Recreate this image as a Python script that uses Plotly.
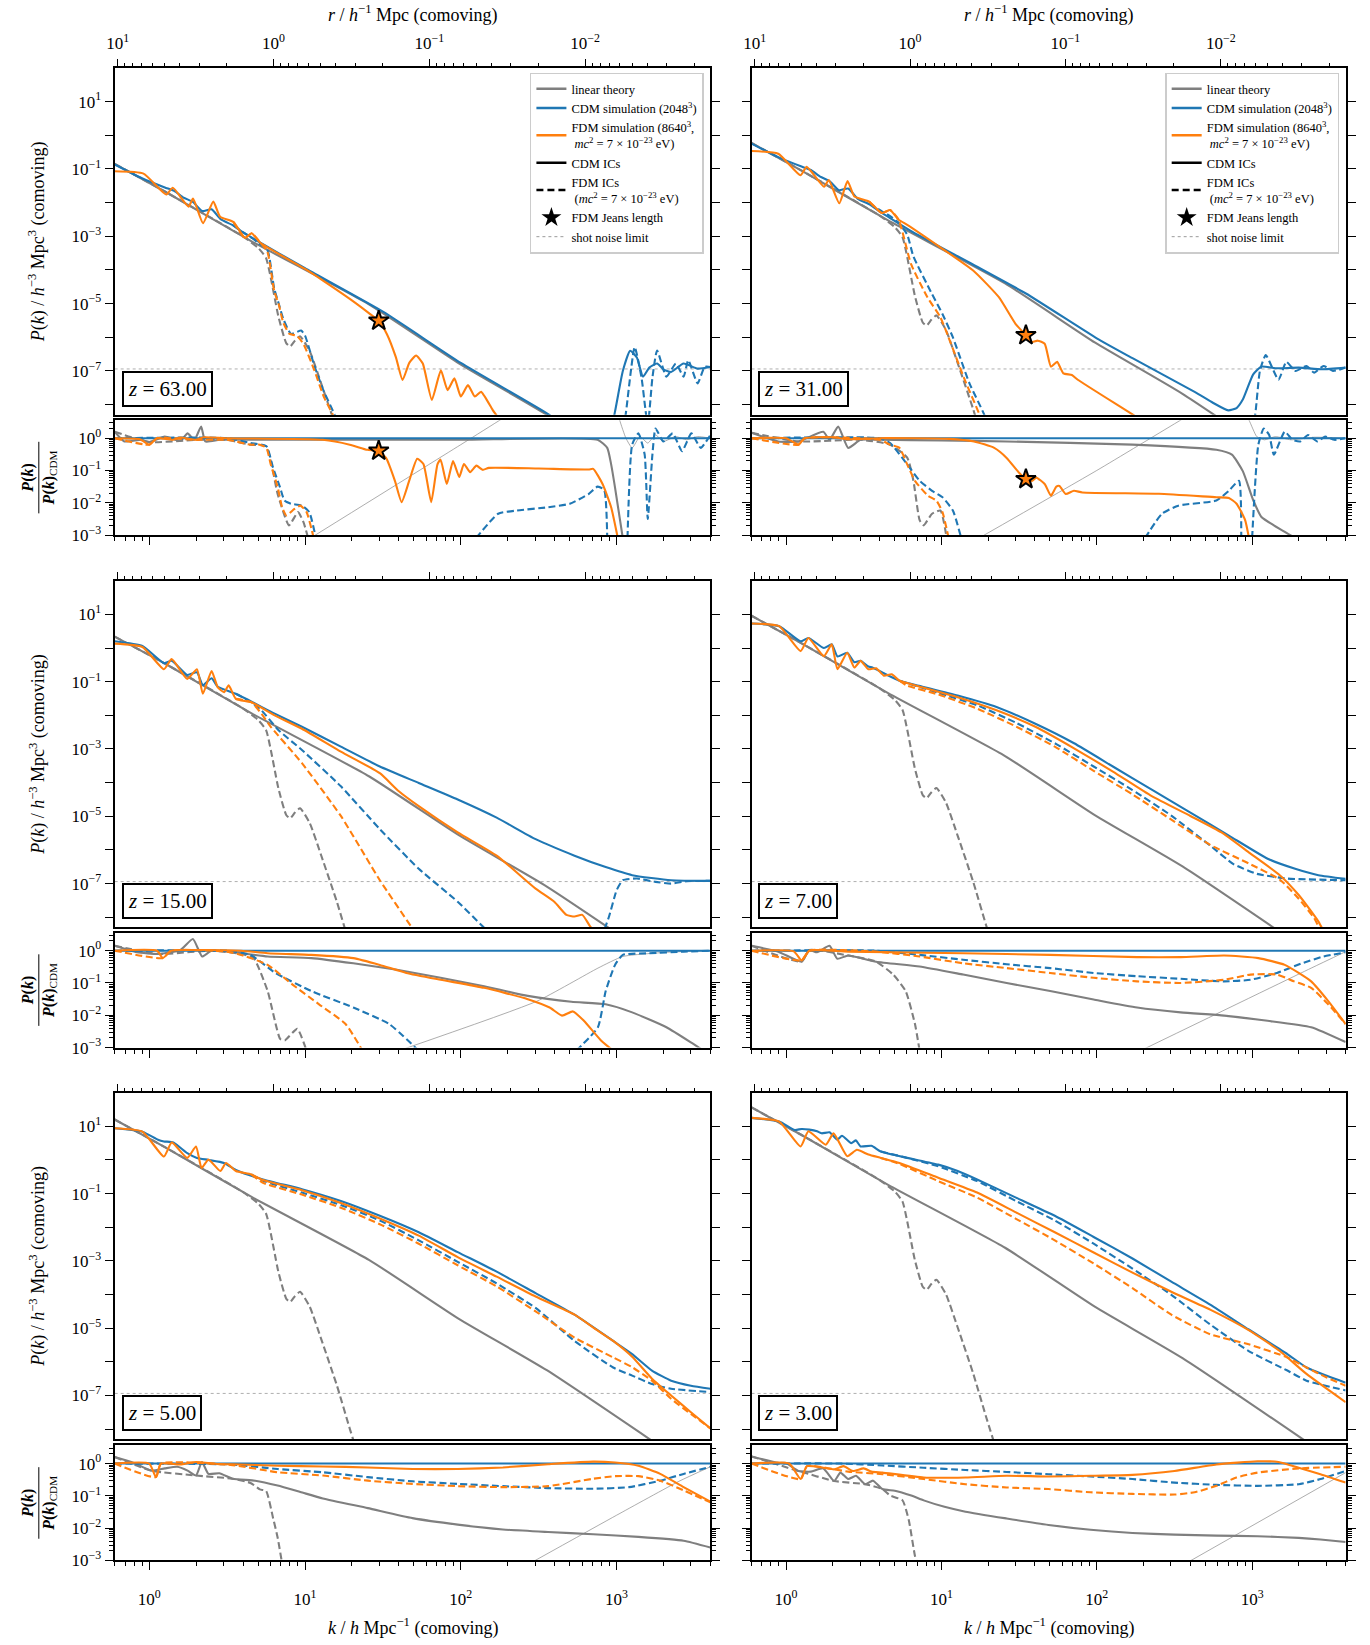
import plotly.graph_objects as go

W, H = 1370, 1645
FONT = "Liberation Serif, DejaVu Serif, serif"
GRAY, BLUE, ORANGE = "#7f7f7f", "#1f77b4", "#ff7f0e"

# ---------------- data (log10 k, log10 P or log10 ratio) ----------------
K_RANGE = [-0.222, 3.602]
SHOT_NOISE_LP = -6.94

GRAY_LK = [-0.222, 0.1, 0.657, 1.41, 1.99, 2.552, 3.602]
Z63_GRAY_LP = [-0.85, -1.67, -3.15, -5.02, -6.78, -8.30, -11.58]
Z31_GRAY_LP = [-0.23, -1.05, -2.53, -4.40, -6.16, -7.68, -10.96]
Z15_GRAY_LP = [0.34, -0.46, -1.94, -3.81, -5.57, -7.09, -10.37]
Z7_GRAY_LP = [0.96, 0.14, -1.34, -3.21, -4.97, -6.49, -9.77]
Z5_GRAY_LP = [1.20, 0.38, -1.10, -2.97, -4.73, -6.25, -9.53]
Z3_GRAY_LP = [1.56, 0.74, -0.74, -2.61, -4.37, -5.89, -9.17]

GRAYD_LK = [-0.222, 0.1, 0.6, 0.70, 0.75, 0.83, 0.88, 0.905, 0.935, 0.968, 1.03, 1.105, 1.205, 1.29, 1.4]
Z63_GRAYD_LP = [-0.85, -1.67, -3.0, -3.35, -3.65, -5.40, -6.18, -6.27, -6.1, -5.97, -6.41, -7.39, -8.76, -10.08, -11.7]
Z31_GRAYD_LP = [-0.23, -1.05, -2.38, -2.73, -3.03, -4.78, -5.56, -5.65, -5.48, -5.35, -5.79, -6.77, -8.14, -9.46, -11.08]
Z15_GRAYD_LP = [0.34, -0.46, -1.79, -2.14, -2.44, -4.19, -4.97, -5.06, -4.89, -4.76, -5.2, -6.18, -7.55, -8.87, -10.49]
Z7_GRAYD_LP = [0.96, 0.14, -1.19, -1.54, -1.84, -3.59, -4.37, -4.46, -4.29, -4.16, -4.6, -5.58, -6.95, -8.27, -9.89]
Z5_GRAYD_LP = [1.2, 0.38, -0.95, -1.3, -1.6, -3.35, -4.13, -4.22, -4.05, -3.92, -4.36, -5.34, -6.71, -8.03, -9.65]
Z3_GRAYD_LP = [1.56, 0.74, -0.59, -0.94, -1.24, -2.99, -3.77, -3.86, -3.69, -3.56, -4.0, -4.98, -6.35, -7.67, -9.29]

# z = 63
Z63_BLUE_LK = [-0.222, -0.05, 0.1, 0.16, 0.22, 0.28, 0.34, 0.40, 0.46, 0.54, 0.6, 0.66, 1.0, 1.5, 2.0, 2.55, 2.88, 2.94, 2.99, 3.04, 3.087, 3.13, 3.17, 3.21, 3.26, 3.3, 3.35, 3.43, 3.52, 3.602]
Z63_BLUE_LP = [-0.87, -1.27, -1.55, -1.65, -1.85, -1.98, -2.25, -2.2, -2.5, -2.68, -2.88, -3.05, -3.95, -5.24, -6.76, -8.25, -9.27, -9.2, -8.2, -7.0, -6.4, -6.6, -7.17, -6.9, -6.78, -6.95, -7.03, -6.78, -6.93, -6.88]
Z63_ORANGE_LK = [-0.222, -0.037, 0.108, 0.151, 0.252, 0.281, 0.345, 0.411, 0.455, 0.541, 0.614, 0.657, 0.715, 1.0, 1.12, 1.294, 1.41, 1.473, 1.525, 1.583, 1.626, 1.67, 1.713, 1.756, 1.814, 1.872, 1.915, 1.959, 2.0, 2.046, 2.09, 2.13, 2.205, 2.25]
Z63_ORANGE_LP = [-1.07, -1.14, -1.76, -1.56, -2.12, -1.88, -2.61, -1.97, -2.42, -2.58, -3.05, -2.91, -3.2, -3.97, -4.33, -4.88, -5.28, -5.51, -5.90, -6.59, -7.27, -6.75, -6.54, -6.78, -7.86, -6.98, -7.57, -7.22, -7.76, -7.42, -7.76, -7.62, -8.16, -8.45]
Z63_ORANGED_LK = [0.541, 0.614, 0.657, 0.715, 0.758, 0.802, 0.831, 0.86, 0.90, 0.946, 0.99, 1.06, 1.12, 1.178, 1.3]
Z63_ORANGED_LP = [-2.58, -3.05, -2.91, -3.2, -3.45, -4.62, -5.02, -5.56, -5.9, -5.95, -6.2, -6.98, -7.76, -8.3, -9.8]
Z63_BLUED_LK = [0.54, 0.6, 0.66, 0.70, 0.758, 0.802, 0.831, 0.86, 0.91, 0.975, 1.0, 1.06, 1.12, 1.19, 1.3, None, 3.03, 3.058, 3.116, 3.16, 3.2, 3.23, 3.26, 3.32, 3.38, 3.43, 3.46, 3.52, 3.565, 3.602]
Z63_BLUED_LP = [-2.68, -2.88, -3.05, -3.2, -3.40, -4.55, -5.0, -5.45, -5.9, -5.80, -5.95, -6.85, -7.6, -8.3, -9.7, None, -9.0, -8.3, -6.29, -7.2, -8.6, -7.2, -6.39, -7.17, -6.78, -7.17, -6.68, -7.37, -6.88, -6.88]

# z = 31
Z31_BLUE_LK = [-0.222, -0.05, 0.1, 0.16, 0.22, 0.28, 0.34, 0.40, 0.46, 0.54, 0.6, 0.66, 0.8, 1.2, 1.544, 2.0, 2.23, 2.63, 2.75, 2.846, 2.9, 2.94, 3.007, 3.06, 3.15, 3.3, 3.45, 3.602]
Z31_BLUE_LP = [-0.25, -0.65, -0.93, -1.03, -1.23, -1.36, -1.63, -1.58, -1.88, -2.06, -2.26, -2.43, -2.83, -3.83, -4.70, -6.03, -6.62, -7.62, -7.95, -8.17, -8.1, -7.85, -7.1, -6.87, -6.92, -6.9, -6.95, -6.9]
Z31_ORANGE_LK = [-0.222, -0.05, 0.093, 0.133, 0.245, 0.275, 0.343, 0.396, 0.44, 0.535, 0.617, 0.67, 0.725, 0.78, 1.0, 1.208, 1.37, 1.477, 1.544, 1.584, 1.62, 1.665, 1.705, 1.745, 1.785, 1.84, 1.878, 2.23, 2.4]
Z31_ORANGE_LP = [-0.47, -0.55, -1.19, -0.94, -1.53, -1.33, -2.02, -1.36, -1.82, -1.97, -2.31, -2.22, -2.51, -2.66, -3.35, -4.03, -4.81, -5.6, -5.94, -6.14, -6.1, -6.19, -6.87, -6.73, -7.07, -7.12, -7.26, -8.29, -8.8]
Z31_ORANGED_LK = [0.535, 0.617, 0.67, 0.725, 0.805, 0.91, 0.993, 1.045, 1.15, 1.245, 1.35]
Z31_ORANGED_LP = [-1.97, -2.31, -2.22, -2.51, -3.83, -4.81, -5.4, -5.99, -7.26, -8.29, -9.6]
Z31_BLUED_LK = [0.535, 0.617, 0.67, 0.725, 0.78, 0.82, 0.94, 1.006, 1.073, 1.18, 1.275, 1.4, None, 2.95, 3.02, 3.05, 3.088, 3.17, 3.22, 3.28, 3.35, 3.4, 3.46, 3.52, 3.602]
Z31_BLUED_LP = [-2.02, -2.26, -2.4, -2.6, -2.95, -3.6, -4.72, -5.3, -5.99, -7.36, -8.29, -9.9, None, -10.0, -8.29, -7.0, -6.53, -7.26, -6.73, -7.0, -6.85, -7.05, -6.85, -7.0, -6.9]

# z = 15
Z15_BLUE_LK = [-0.222, -0.044, 0.094, 0.144, 0.244, 0.306, 0.344, 0.4, 0.44, 0.556, 0.805, 0.98, 1.23, 1.48, 1.73, 1.98, 2.23, 2.48, 2.73, 2.93, 3.1, 3.35, 3.602]
Z15_BLUE_LP = [0.2, 0.06, -0.45, -0.38, -0.8, -0.72, -1.1, -0.9, -1.15, -1.36, -1.95, -2.34, -2.93, -3.52, -4.01, -4.5, -5.04, -5.68, -6.17, -6.51, -6.75, -6.9, -6.92]
Z15_ORANGE_LK = [-0.222, -0.044, 0.094, 0.144, 0.244, 0.306, 0.344, 0.4, 0.44, 0.48, 0.51, 0.556, 0.655, 0.805, 0.98, 1.23, 1.48, 1.6, 1.73, 1.98, 2.23, 2.48, 2.6, 2.678, 2.73, 2.78, 2.83, 2.9]
Z15_ORANGE_LP = [0.13, 0.03, -0.63, -0.33, -0.92, -0.63, -1.36, -0.68, -1.17, -1.31, -1.11, -1.51, -1.61, -2.0, -2.4, -3.08, -3.72, -4.25, -4.7, -5.48, -6.17, -7.15, -7.54, -7.93, -7.98, -7.93, -8.27, -8.6]
Z15_ORANGED_LK = [0.556, 0.655, 0.72, 0.78, 0.98, 1.23, 1.48, 1.68, 1.8]
Z15_ORANGED_LP = [-1.51, -1.61, -1.95, -2.34, -3.42, -4.99, -6.9, -8.27, -9.1]
Z15_BLUED_LK = [0.556, 0.655, 0.72, 0.83, 0.98, 1.23, 1.48, 1.73, 1.98, 2.14, 2.3, None, 2.74, 2.88, 2.95, 3.0, 3.04, 3.13, 3.25, 3.35, 3.45, 3.602]
Z15_BLUED_LP = [-1.36, -1.61, -1.85, -2.44, -3.03, -4.11, -5.38, -6.56, -7.54, -8.27, -9.0, None, -9.2, -8.8, -8.0, -7.2, -6.9, -6.85, -6.95, -7.0, -6.93, -6.92]

# z = 7
Z7_BLUE_LK = [-0.222, -0.044, 0.094, 0.144, 0.244, 0.294, 0.331, 0.394, 0.44, 0.48, 0.53, 0.556, 0.63, 0.73, 0.855, 1.105, 1.355, 1.605, 1.854, 2.104, 2.354, 2.603, 2.853, 3.1, 3.277, 3.427, 3.602]
Z7_BLUE_LP = [0.73, 0.65, 0.2, 0.3, 0.0, 0.11, -0.25, -0.14, -0.42, -0.38, -0.55, -0.58, -0.75, -0.97, -1.12, -1.41, -1.75, -2.25, -2.83, -3.52, -4.21, -4.89, -5.58, -6.26, -6.56, -6.75, -6.86]
Z7_ORANGE_LK = [-0.222, -0.044, 0.094, 0.144, 0.244, 0.294, 0.331, 0.394, 0.44, 0.48, 0.53, 0.58, 0.63, 0.68, 0.73, 0.855, 1.105, 1.355, 1.605, 1.854, 2.104, 2.354, 2.603, 2.803, 2.978, 3.178, 3.3, 3.427, 3.5]
Z7_ORANGE_LP = [0.73, 0.65, -0.09, 0.30, -0.24, 0.11, -0.63, -0.14, -0.58, -0.38, -0.63, -0.6, -0.82, -0.78, -0.97, -1.14, -1.46, -1.85, -2.34, -2.98, -3.67, -4.4, -4.99, -5.48, -6.07, -6.75, -7.34, -8.13, -8.8]
Z7_ORANGED_LK = [0.73, 0.78, 0.98, 1.23, 1.48, 1.73, 1.98, 2.23, 2.48, 2.73, 2.978, 3.178, 3.3, 3.4, 3.427, 3.5]
Z7_ORANGED_LP = [-0.97, -1.12, -1.38, -1.8, -2.33, -2.93, -3.65, -4.35, -5.1, -5.85, -6.4, -6.88, -7.45, -8.03, -8.27, -8.9]
Z7_BLUED_LK = [0.73, 0.98, 1.23, 1.48, 1.73, 1.98, 2.23, 2.48, 2.73, 2.88, 3.03, 3.227, 3.602]
Z7_BLUED_LP = [-0.97, -1.33, -1.7, -2.22, -2.83, -3.52, -4.22, -4.98, -5.87, -6.42, -6.71, -6.85, -6.9]

# z = 5
Z5_BLUE_LK = [-0.222, -0.044, 0.056, 0.094, 0.155, 0.244, 0.306, 0.38, 0.48, 0.556, 0.73, 0.98, 1.23, 1.48, 1.73, 1.98, 2.23, 2.48, 2.73, 2.978, 3.1, 3.227, 3.35, 3.477, 3.602]
Z5_BLUE_LP = [0.94, 0.84, 0.6, 0.55, 0.52, 0.2, 0.06, 0.0, -0.09, -0.3, -0.58, -0.87, -1.22, -1.66, -2.15, -2.74, -3.32, -3.96, -4.6, -5.38, -5.77, -6.26, -6.56, -6.71, -6.8]
Z5_ORANGE_LK = [-0.222, -0.044, 0.094, 0.144, 0.244, 0.3, 0.336, 0.38, 0.456, 0.493, 0.556, 0.655, 0.73, 0.98, 1.23, 1.48, 1.73, 1.98, 2.23, 2.48, 2.73, 2.853, 2.978, 3.1, 3.227, 3.35, 3.477, 3.602]
Z5_ORANGE_LP = [0.94, 0.84, 0.1, 0.52, 0.06, 0.4, -0.24, 0.01, -0.33, -0.09, -0.33, -0.43, -0.6, -0.9, -1.28, -1.74, -2.25, -2.89, -3.47, -4.06, -4.6, -4.99, -5.38, -5.85, -6.5, -7.0, -7.5, -7.98]
Z5_ORANGED_LK = [0.655, 0.73, 0.98, 1.23, 1.48, 1.73, 1.98, 2.23, 2.48, 2.73, 2.978, 3.1, 3.227, 3.35, 3.477, 3.602]
Z5_ORANGED_LP = [-0.43, -0.68, -1.03, -1.42, -1.91, -2.49, -3.13, -3.76, -4.5, -5.28, -5.87, -6.16, -6.56, -7.1, -7.55, -7.98]
Z5_BLUED_LK = [0.655, 0.73, 0.98, 1.23, 1.48, 1.73, 1.98, 2.23, 2.48, 2.73, 2.978, 3.1, 3.227, 3.35, 3.602]
Z5_BLUED_LP = [-0.43, -0.62, -0.97, -1.34, -1.8, -2.39, -3.03, -3.67, -4.4, -5.38, -6.17, -6.41, -6.66, -6.8, -6.9]

# z = 3
Z3_BLUE_LK = [-0.222, -0.044, 0.056, 0.1, 0.15, 0.2, 0.23, 0.28, 0.33, 0.36, 0.42, 0.45, 0.48, 0.55, 0.61, 0.78, 0.98, 1.105, 1.23, 1.48, 1.73, 1.98, 2.23, 2.48, 2.73, 2.978, 3.227, 3.35, 3.477, 3.602]
Z3_BLUE_LP = [1.25, 1.14, 0.89, 0.92, 0.9, 0.85, 0.79, 0.82, 0.6, 0.72, 0.5, 0.58, 0.4, 0.42, 0.25, 0.06, -0.14, -0.33, -0.58, -1.12, -1.66, -2.29, -2.93, -3.62, -4.3, -5.04, -5.77, -6.17, -6.41, -6.62]
Z3_ORANGE_LK = [-0.222, -0.044, 0.094, 0.144, 0.256, 0.306, 0.394, 0.456, 0.53, 0.61, 0.73, 0.98, 1.23, 1.48, 1.73, 1.98, 2.23, 2.48, 2.73, 2.978, 3.178, 3.35, 3.602]
Z3_ORANGE_LP = [1.25, 1.14, 0.4, 0.85, 0.45, 0.79, 0.11, 0.3, 0.16, 0.06, -0.09, -0.53, -0.97, -1.56, -2.15, -2.75, -3.35, -3.92, -4.45, -5.06, -5.68, -6.36, -7.2]
Z3_ORANGED_LK = [0.61, 0.73, 0.98, 1.23, 1.48, 1.73, 1.98, 2.23, 2.48, 2.73, 2.978, 3.227, 3.35, 3.477, 3.602]
Z3_ORANGED_LP = [0.06, -0.12, -0.63, -1.12, -1.75, -2.39, -3.08, -3.81, -4.6, -5.18, -5.48, -5.87, -6.17, -6.46, -6.71]
Z3_BLUED_LK = [0.61, 0.78, 0.98, 1.23, 1.48, 1.73, 1.98, 2.23, 2.48, 2.73, 2.978, 3.227, 3.35, 3.602]
Z3_BLUED_LP = [0.25, 0.06, -0.19, -0.63, -1.22, -1.8, -2.49, -3.23, -4.01, -4.89, -5.68, -6.26, -6.56, -6.85]

# ---- ratio panels: log10 [P(k) / P(k)_CDM] ----
RATIO_ONE_LK = [-0.222, 3.602]
RATIO_ONE_LR = [0.0, 0.0]

Z63_R_GS_LK = [-0.222, -0.16, -0.05, 0.0, 0.1, 0.2, 0.246, 0.29, 0.333, 0.36, 0.45, 0.535, 1.0, 2.0, 2.878, 2.94, 2.965, 2.99, 3.04]
Z63_R_GS_LR = [0.2, -0.1, -0.05, -0.12, 0.05, -0.08, 0.15, -0.05, 0.36, -0.1, -0.05, -0.05, -0.05, -0.05, -0.05, -0.3, -0.81, -1.53, -3.1]
Z63_R_OS_LK = [-0.222, -0.06, 0.0, 0.05, 0.15, 0.2, 0.3, 0.35, 0.5, 1.114, 1.287, 1.40, 1.467, 1.52, 1.577, 1.62, 1.67, 1.72, 1.76, 1.81, 1.85, 1.87, 1.91, 1.95, 1.99, 2.02, 2.06, 2.1, 2.14, 2.18, 2.5, 2.82, 2.85, 2.91, 2.965, 3.008]
Z63_R_OS_LR = [0.0, -0.03, -0.2, 0.0, -0.05, 0.02, -0.05, 0.03, 0.0, -0.05, -0.2, -0.36, -0.39, -0.61, -1.32, -1.98, -1.3, -0.64, -0.8, -1.98, -0.81, -0.66, -1.42, -0.71, -1.2, -0.8, -1.05, -0.85, -0.98, -0.92, -0.94, -0.97, -0.95, -1.42, -2.14, -3.1]
Z63_R_OD_LK = [-0.222, 0.0, 0.05, 0.3, 0.5, 0.65, 0.71, 0.752, 0.78, 0.825, 0.853, 0.88, 0.93, 0.97, 1.01, 1.056]
Z63_R_OD_LR = [0.0, -0.2, 0.0, -0.05, -0.05, -0.2, -0.2, -0.3, -0.81, -1.53, -2.14, -2.39, -2.2, -2.09, -2.29, -3.1]
Z63_R_BD_LK = [-0.222, 0.5, 0.65, 0.752, 0.795, 0.84, 0.868, 0.91, 0.98, 1.027, 1.07, None, 2.097, 2.24, 2.36, 2.56, 2.70, 2.82, 2.878, 2.92, 2.94, None, 3.07, 3.10, 3.14, 3.18, 3.2, 3.23, 3.25, 3.3, 3.36, 3.42, 3.48, 3.54, 3.602]
Z63_R_BD_LR = [0.0, 0.0, -0.15, -0.25, -0.92, -1.53, -1.93, -2.03, -2.09, -2.29, -3.1, None, -3.1, -2.34, -2.24, -2.14, -2.03, -1.73, -1.5, -1.6, -3.1, None, -3.1, -0.2, 0.15, -0.5, -2.5, -0.5, 0.3, -0.1, 0.15, -0.4, 0.15, -0.3, 0.1]
Z63_R_GD_LK = [-0.222, 0.0, 0.3, 0.5, 0.65, 0.75, 0.825, 0.897, 0.955, 0.99, 1.02]
Z63_R_GD_LR = [0.2, -0.12, -0.05, -0.05, -0.2, -0.25, -1.74, -2.7, -2.29, -2.6, -3.1]
Z63_R_SN_LK = [1.0, 2.0, 2.5, 2.9, 2.98, 3.02, 3.06, 3.1, 3.15, 3.2, 3.25, 3.3, 3.38, 3.45, 3.52, 3.602]
Z63_R_SN_LR = [-3.2, -0.2, 1.3, 2.3, 1.5, 0.56, 0.0, -0.3, 0.05, -0.15, 0.1, -0.1, 0.05, -0.05, 0.05, 0.0]

Z31_R_GS_LK = [-0.222, -0.05, 0.08, 0.24, 0.28, 0.336, 0.40, 0.48, 0.6, 1.0, 1.42, 2.23, 2.77, 2.87, 2.94, 3.008, 3.06, 3.14, 3.28]
Z31_R_GS_LR = [0.17, -0.1, -0.1, 0.2, -0.05, 0.36, -0.3, -0.05, -0.05, -0.07, -0.1, -0.2, -0.36, -0.51, -1.02, -1.93, -2.44, -2.7, -3.1]
Z31_R_OS_LK = [-0.222, 0.0, 0.08, 0.12, 0.3, 0.4, 0.6, 1.05, 1.21, 1.34, 1.42, 1.50, 1.544, 1.585, 1.61, 1.665, 1.705, 1.74, 1.76, 1.80, 1.853, 1.907, 2.4, 2.77, 2.85, 2.9, 2.955, 2.98]
Z31_R_OS_LR = [0.0, 0.0, -0.2, 0.0, 0.03, -0.03, 0.0, -0.02, -0.1, -0.3, -0.61, -1.07, -1.27, -1.32, -1.22, -1.42, -1.78, -1.5, -1.48, -1.73, -1.63, -1.68, -1.72, -1.83, -1.85, -2.03, -2.54, -3.1]
Z31_R_OD_LK = [-0.222, 0.08, 0.12, 0.6, 0.67, 0.73, 0.78, 0.83, 0.913, 0.967, 1.007, 1.047]
Z31_R_OD_LR = [0.0, -0.2, 0.0, -0.05, -0.2, -0.3, -0.81, -1.32, -1.78, -1.93, -2.29, -3.1]
Z31_R_GD_LK = [-0.222, 0.08, 0.48, 0.67, 0.78, 0.82, 0.86, 0.886, 0.94, 0.994, 1.034]
Z31_R_GD_LR = [0.17, -0.1, -0.05, -0.2, -0.6, -1.32, -2.54, -2.7, -2.34, -2.24, -3.1]
Z31_R_BD_LK = [-0.222, 0.6, 0.67, 0.78, 0.86, 0.94, 1.007, 1.074, 1.128, None, 2.31, 2.42, 2.525, 2.77, 2.85, 2.915, 2.93, None, 3.0, 3.04, 3.075, 3.11, 3.14, 3.21, 3.26, 3.31, 3.36, 3.42, 3.47, 3.53, 3.602]
Z31_R_BD_LR = [0.0, 0.0, -0.15, -0.81, -1.32, -1.63, -1.83, -2.24, -3.1, None, -3.1, -2.34, -2.09, -1.93, -1.63, -1.32, -3.1, None, -3.1, -0.2, 0.3, 0.1, -0.51, 0.2, -0.05, -0.1, 0.1, -0.1, 0.05, -0.05, 0.0]
Z31_R_SN_LK = [1.24, 2.0, 2.54, 2.8, 2.9, 2.98, 3.03, 3.08, 3.15, 3.25, 3.4, 3.602]
Z31_R_SN_LR = [-3.1, -1.0, 0.56, 1.3, 1.2, 0.56, 0.05, -0.05, 0.05, -0.05, 0.03, 0.0]

Z15_R_GS_LK = [-0.222, -0.08, 0.06, 0.2, 0.28, 0.34, 0.4, 0.59, 0.76, 1.04, 1.31, 1.59, 1.87, 2.15, 2.43, 2.71, 2.93, 3.1, 3.32, 3.49, 3.56]
Z15_R_GS_LR = [0.15, -0.05, -0.1, 0.02, 0.36, -0.18, 0.0, -0.08, -0.18, -0.23, -0.39, -0.59, -0.84, -1.1, -1.4, -1.58, -1.66, -1.91, -2.37, -2.88, -3.1]
Z15_R_OS_LK = [-0.222, 0.05, 0.087, 0.14, 0.3, 0.59, 0.76, 1.04, 1.31, 1.48, 1.65, 1.87, 2.15, 2.43, 2.57, 2.65, 2.72, 2.79, 2.9, 2.98]
Z15_R_OS_LR = [0.0, 0.0, -0.23, 0.0, 0.02, 0.0, -0.08, -0.13, -0.23, -0.44, -0.69, -0.9, -1.15, -1.5, -1.76, -2.01, -1.88, -2.17, -2.78, -3.1]
Z15_R_OD_LK = [-0.222, 0.087, 0.14, 0.5, 0.59, 0.76, 0.92, 1.09, 1.26, 1.37]
Z15_R_OD_LR = [0.0, -0.23, 0.0, -0.03, -0.13, -0.44, -1.05, -1.66, -2.27, -3.1]
Z15_R_BD_LK = [-0.222, 0.5, 0.65, 0.81, 1.04, 1.31, 1.54, 1.73, None, 2.74, 2.88, 2.93, 2.99, 3.04, 3.21, 3.43, 3.602]
Z15_R_BD_LR = [0.0, 0.0, -0.13, -0.69, -1.25, -1.76, -2.27, -3.1, None, -3.1, -2.37, -1.25, -0.44, -0.13, -0.08, -0.03, 0.0]
Z15_R_GD_LK = [-0.222, 0.06, 0.4, 0.59, 0.67, 0.76, 0.84, 0.87, 0.95, 1.01]
Z15_R_GD_LR = [0.15, -0.1, 0.0, -0.1, -0.23, -1.25, -2.73, -2.78, -2.42, -3.1]
Z15_R_SN_LK = [1.6, 2.49, 2.88, 3.04, 3.32, 3.602]
Z15_R_SN_LR = [-3.1, -1.56, -0.54, -0.18, -0.05, 0.0]

Z7_R_GS_LK = [-0.222, -0.05, 0.1, 0.15, 0.2, 0.28, 0.33, 0.4, 0.58, 0.86, 1.14, 1.42, 1.7, 1.98, 2.26, 2.54, 2.82, 3.1, 3.38, 3.602]
Z7_R_GS_LR = [0.15, -0.03, -0.34, 0.02, -0.05, 0.15, -0.25, -0.15, -0.34, -0.49, -0.74, -1.0, -1.25, -1.51, -1.76, -1.91, -2.01, -2.17, -2.37, -2.83]
Z7_R_GD_LK = [-0.222, 0.1, 0.15, 0.4, 0.58, 0.69, 0.77, 0.83, 0.86]
Z7_R_GD_LR = [0.15, -0.34, 0.02, -0.15, -0.34, -0.74, -1.25, -2.27, -3.1]
Z7_R_OS_LK = [-0.222, 0.05, 0.1, 0.15, 0.4, 1.14, 1.7, 2.26, 2.54, 2.82, 3.04, 3.21, 3.38, 3.49, 3.602]
Z7_R_OS_LR = [0.0, -0.02, -0.3, 0.0, -0.03, -0.08, -0.13, -0.2, -0.2, -0.15, -0.23, -0.44, -0.95, -1.56, -2.27]
Z7_R_OD_LK = [-0.222, 0.1, 0.15, 0.58, 0.86, 1.14, 1.42, 1.7, 1.98, 2.26, 2.54, 2.82, 2.99, 3.16, 3.27, 3.38, 3.49, 3.602]
Z7_R_OD_LR = [0.0, -0.3, 0.0, -0.03, -0.18, -0.39, -0.54, -0.69, -0.84, -0.95, -1.0, -0.9, -0.74, -0.74, -0.95, -1.15, -1.66, -2.27]
Z7_R_BD_LK = [-0.222, 0.58, 0.86, 1.14, 1.42, 1.7, 1.98, 2.26, 2.54, 2.82, 2.99, 3.16, 3.32, 3.46, 3.602]
Z7_R_BD_LR = [0.0, 0.0, -0.13, -0.28, -0.42, -0.54, -0.69, -0.79, -0.87, -0.95, -0.9, -0.69, -0.39, -0.18, -0.05]
Z7_R_SN_LK = [2.28, 3.38, 3.602]
Z7_R_SN_LR = [-3.1, -0.54, -0.03]

Z5_R_GS_LK = [-0.222, -0.1, 0.014, 0.1, 0.18, 0.246, 0.3, 0.338, 0.38, 0.45, 0.535, 0.68, 0.824, 0.97, 1.114, 1.403, 1.69, 1.98, 2.27, 2.56, 2.85, 3.14, 3.43, 3.602]
Z5_R_GS_LR = [0.2, 0.02, -0.22, -0.15, -0.1, -0.22, -0.37, 0.05, -0.32, -0.3, -0.47, -0.53, -0.68, -0.88, -1.08, -1.38, -1.69, -1.89, -2.04, -2.12, -2.19, -2.27, -2.39, -2.6]
Z5_R_GD_LK = [-0.222, 0.014, 0.3, 0.535, 0.65, 0.71, 0.75, 0.795, 0.824, 0.853]
Z5_R_GD_LR = [0.2, -0.22, -0.37, -0.47, -0.6, -0.8, -0.85, -1.69, -2.29, -3.1]
Z5_R_OS_LK = [-0.222, 0.0, 0.043, 0.075, 0.2, 0.3, 0.45, 0.535, 0.824, 1.114, 1.403, 1.69, 1.98, 2.27, 2.56, 2.85, 2.99, 3.14, 3.28, 3.43, 3.602]
Z5_R_OS_LR = [0.0, 0.0, -0.42, 0.0, -0.03, 0.05, -0.02, -0.02, -0.07, -0.09, -0.12, -0.17, -0.17, -0.12, -0.02, 0.06, 0.03, -0.07, -0.32, -0.73, -1.18]
Z5_R_OD_LK = [-0.222, 0.043, 0.075, 0.535, 0.824, 1.114, 1.403, 1.69, 1.98, 2.27, 2.56, 2.85, 2.99, 3.14, 3.28, 3.43, 3.602]
Z5_R_OD_LR = [0.0, -0.42, 0.0, -0.05, -0.27, -0.37, -0.53, -0.63, -0.7, -0.73, -0.7, -0.47, -0.39, -0.39, -0.53, -0.83, -1.2]
Z5_R_BD_LK = [-0.222, 0.535, 0.824, 1.114, 1.403, 1.69, 1.98, 2.27, 2.56, 2.85, 3.08, 3.28, 3.43, 3.602]
Z5_R_BD_LR = [0.0, -0.03, -0.17, -0.27, -0.42, -0.55, -0.63, -0.7, -0.76, -0.78, -0.73, -0.53, -0.32, -0.1]
Z5_R_SN_LK = [2.44, 3.0, 3.4, 3.602]
Z5_R_SN_LR = [-3.1, -1.6, -0.55, -0.1]

Z3_R_GS_LK = [-0.222, -0.05, 0.0, 0.08, 0.16, 0.24, 0.31, 0.35, 0.4, 0.45, 0.51, 0.56, 0.62, 0.7, 0.806, 0.886, 1.02, 1.155, 1.42, 1.69, 1.96, 2.23, 2.5, 2.77, 3.035, 3.3, 3.44, 3.602]
Z3_R_GS_LR = [0.22, 0.02, 0.02, -0.23, -0.25, -0.15, -0.54, -0.28, -0.48, -0.38, -0.64, -0.53, -0.79, -0.84, -0.99, -1.14, -1.34, -1.49, -1.7, -1.9, -2.05, -2.15, -2.2, -2.23, -2.25, -2.3, -2.35, -2.43]
Z3_R_GD_LK = [-0.222, 0.08, 0.31, 0.51, 0.62, 0.67, 0.75, 0.79, 0.83, 0.845]
Z3_R_GD_LR = [0.22, -0.23, -0.54, -0.64, -0.79, -0.99, -1.14, -1.75, -2.86, -3.1]
Z3_R_OS_LK = [-0.222, 0.02, 0.094, 0.135, 0.24, 0.31, 0.37, 0.43, 0.5, 0.55, 0.62, 0.886, 1.155, 1.42, 1.69, 1.96, 2.23, 2.5, 2.77, 3.035, 3.17, 3.3, 3.44, 3.602]
Z3_R_OS_LR = [0.0, 0.0, -0.48, -0.08, -0.13, -0.18, -0.08, -0.23, -0.15, -0.25, -0.28, -0.43, -0.43, -0.38, -0.4, -0.38, -0.35, -0.23, -0.03, 0.07, 0.05, -0.13, -0.33, -0.59]
Z3_R_OD_LK = [-0.222, 0.094, 0.135, 0.4, 0.62, 0.886, 1.155, 1.42, 1.69, 1.96, 2.23, 2.5, 2.63, 2.77, 2.9, 3.035, 3.3, 3.602]
Z3_R_OD_LR = [0.0, -0.48, -0.08, -0.25, -0.33, -0.48, -0.64, -0.74, -0.79, -0.89, -0.94, -0.96, -0.89, -0.69, -0.43, -0.28, -0.15, -0.1]
Z3_R_BD_LK = [-0.222, 0.35, 0.62, 0.886, 1.155, 1.42, 1.69, 1.96, 2.23, 2.5, 2.77, 3.035, 3.3, 3.44, 3.602]
Z3_R_BD_LR = [0.0, 0.0, -0.06, -0.13, -0.2, -0.26, -0.33, -0.4, -0.48, -0.59, -0.66, -0.69, -0.64, -0.48, -0.23]
Z3_R_SN_LK = [2.57, 3.602]
Z3_R_SN_LR = [-3.1, -0.28]

# FDM Jeans length markers (z=63, z=31)
STAR_LK = [1.473, 1.544]
STAR_MAIN_LP = [-5.51, -5.94]
STAR_RATIO_LR = [-0.39, -1.27]

Z_LABELS = ["63.00", "31.00", "15.00", "7.00", "5.00", "3.00"]

# ---------------- figure ----------------
def pw(a):
    return [None if v is None else 10 ** v for v in a]

def px(x):
    return x / W

def py(y):
    return 1 - y / H

COLS = [(107.3, 706.5), (747.9, 1345.5)]
MAIN_ROWS = [(68.3, 417.3), (584.3, 933.0), (1099.3, 1448.0)]
RATIO_ROWS = [(422.7, 538.3), (938.3, 1054.0), (1454.3, 1570.0)]

PANELS = [
    dict(gs=Z63_GRAY_LP, gd=Z63_GRAYD_LP, b=(Z63_BLUE_LK, Z63_BLUE_LP), o=(Z63_ORANGE_LK, Z63_ORANGE_LP),
         od=(Z63_ORANGED_LK, Z63_ORANGED_LP), bd=(Z63_BLUED_LK, Z63_BLUED_LP),
         rgs=(Z63_R_GS_LK, Z63_R_GS_LR), rgd=(Z63_R_GD_LK, Z63_R_GD_LR), ros=(Z63_R_OS_LK, Z63_R_OS_LR),
         rod=(Z63_R_OD_LK, Z63_R_OD_LR), rbd=(Z63_R_BD_LK, Z63_R_BD_LR), rsn=(Z63_R_SN_LK, Z63_R_SN_LR), star=0),
    dict(gs=Z31_GRAY_LP, gd=Z31_GRAYD_LP, b=(Z31_BLUE_LK, Z31_BLUE_LP), o=(Z31_ORANGE_LK, Z31_ORANGE_LP),
         od=(Z31_ORANGED_LK, Z31_ORANGED_LP), bd=(Z31_BLUED_LK, Z31_BLUED_LP),
         rgs=(Z31_R_GS_LK, Z31_R_GS_LR), rgd=(Z31_R_GD_LK, Z31_R_GD_LR), ros=(Z31_R_OS_LK, Z31_R_OS_LR),
         rod=(Z31_R_OD_LK, Z31_R_OD_LR), rbd=(Z31_R_BD_LK, Z31_R_BD_LR), rsn=(Z31_R_SN_LK, Z31_R_SN_LR), star=1),
    dict(gs=Z15_GRAY_LP, gd=Z15_GRAYD_LP, b=(Z15_BLUE_LK, Z15_BLUE_LP), o=(Z15_ORANGE_LK, Z15_ORANGE_LP),
         od=(Z15_ORANGED_LK, Z15_ORANGED_LP), bd=(Z15_BLUED_LK, Z15_BLUED_LP),
         rgs=(Z15_R_GS_LK, Z15_R_GS_LR), rgd=(Z15_R_GD_LK, Z15_R_GD_LR), ros=(Z15_R_OS_LK, Z15_R_OS_LR),
         rod=(Z15_R_OD_LK, Z15_R_OD_LR), rbd=(Z15_R_BD_LK, Z15_R_BD_LR), rsn=(Z15_R_SN_LK, Z15_R_SN_LR), star=None),
    dict(gs=Z7_GRAY_LP, gd=Z7_GRAYD_LP, b=(Z7_BLUE_LK, Z7_BLUE_LP), o=(Z7_ORANGE_LK, Z7_ORANGE_LP),
         od=(Z7_ORANGED_LK, Z7_ORANGED_LP), bd=(Z7_BLUED_LK, Z7_BLUED_LP),
         rgs=(Z7_R_GS_LK, Z7_R_GS_LR), rgd=(Z7_R_GD_LK, Z7_R_GD_LR), ros=(Z7_R_OS_LK, Z7_R_OS_LR),
         rod=(Z7_R_OD_LK, Z7_R_OD_LR), rbd=(Z7_R_BD_LK, Z7_R_BD_LR), rsn=(Z7_R_SN_LK, Z7_R_SN_LR), star=None),
    dict(gs=Z5_GRAY_LP, gd=Z5_GRAYD_LP, b=(Z5_BLUE_LK, Z5_BLUE_LP), o=(Z5_ORANGE_LK, Z5_ORANGE_LP),
         od=(Z5_ORANGED_LK, Z5_ORANGED_LP), bd=(Z5_BLUED_LK, Z5_BLUED_LP),
         rgs=(Z5_R_GS_LK, Z5_R_GS_LR), rgd=(Z5_R_GD_LK, Z5_R_GD_LR), ros=(Z5_R_OS_LK, Z5_R_OS_LR),
         rod=(Z5_R_OD_LK, Z5_R_OD_LR), rbd=(Z5_R_BD_LK, Z5_R_BD_LR), rsn=(Z5_R_SN_LK, Z5_R_SN_LR), star=None),
    dict(gs=Z3_GRAY_LP, gd=Z3_GRAYD_LP, b=(Z3_BLUE_LK, Z3_BLUE_LP), o=(Z3_ORANGE_LK, Z3_ORANGE_LP),
         od=(Z3_ORANGED_LK, Z3_ORANGED_LP), bd=(Z3_BLUED_LK, Z3_BLUED_LP),
         rgs=(Z3_R_GS_LK, Z3_R_GS_LR), rgd=(Z3_R_GD_LK, Z3_R_GD_LR), ros=(Z3_R_OS_LK, Z3_R_OS_LR),
         rod=(Z3_R_OD_LK, Z3_R_OD_LR), rbd=(Z3_R_BD_LK, Z3_R_BD_LR), rsn=(Z3_R_SN_LK, Z3_R_SN_LR), star=None),
]

fig = go.Figure()
LW = 2.1
DASH = "7px,3.5px"


def ax(n, kind):
    return kind if n == 1 else f"{kind}{n}"


def line(xs, ys, xa, ya, color, width=LW, dash="solid", smooth=True):
    ln = dict(color=color, width=width, dash=dash)
    if smooth:
        ln.update(shape="spline", smoothing=0.5)
    fig.add_trace(go.Scatter(x=pw(xs), y=pw(ys), xaxis=xa, yaxis=ya, mode="lines", line=ln,
                             showlegend=False, hoverinfo="skip", connectgaps=False))


def sup(e):
    return "10<sup>" + (str(e) if e >= 0 else "\u2212" + str(-e)) + "</sup>"


TICKFONT = dict(family=FONT, size=17, color="black")
TWO_PI = 6.283185307179586
top_major = [TWO_PI / r for r in (10.0, 1.0, 0.1, 0.01)]
top_text = [sup(1), sup(0), sup(-1), sup(-2)]
top_minor = [TWO_PI / (m * 10.0 ** e) for e in (0, -1, -2, -3) for m in range(2, 10)]
x_minor = [m * 10.0 ** e for e in (-1, 0, 1, 2, 3) for m in range(2, 10) if 0.6 <= m * 10.0 ** e <= 4000]
r_minor = [m * 10.0 ** e for e in (-3, -2, -1, 0) for m in range(2, 10) if m * 10.0 ** e <= 3.6]
main_major = [10.0 ** e for e in (1, -1, -3, -5, -7)]
main_major_text = [sup(e) for e in (1, -1, -3, -5, -7)]
main_even = [10.0 ** e for e in (0, -2, -4, -6, -8)]

layout = {}
annotations = []
shapes = []

for i, P in enumerate(PANELS):
    col, row = i % 2, i // 2
    mn, rn, tn = 2 * i + 1, 2 * i + 2, 13 + i
    xm, ym = ax(mn, "x"), ax(mn, "y")
    xr, yr = ax(rn, "x"), ax(rn, "y")
    xt = ax(tn, "x")
    xd = [px(COLS[col][0]), px(COLS[col][1])]
    mdom = [py(MAIN_ROWS[row][1]), py(MAIN_ROWS[row][0])]
    rdom = [py(RATIO_ROWS[row][1]), py(RATIO_ROWS[row][0])]

    # ---- main panel traces ----
    line(GRAY_LK, P["gs"], xm, ym, GRAY)
    line(GRAYD_LK, P["gd"], xm, ym, GRAY, dash=DASH)
    line(K_RANGE, [SHOT_NOISE_LP, SHOT_NOISE_LP], xm, ym, "#9a9a9a", width=0.8, dash="dot", smooth=False)
    line(*P["bd"], xm, ym, BLUE, dash=DASH)
    line(*P["b"], xm, ym, BLUE)
    line(*P["od"], xm, ym, ORANGE, dash=DASH)
    line(*P["o"], xm, ym, ORANGE)
    # ---- ratio panel traces ----
    line(*P["rsn"], xr, yr, "#8a8a8a", width=0.7)
    line(*P["rgs"], xr, yr, GRAY)
    line(*P["rgd"], xr, yr, GRAY, dash=DASH)
    line(*P["rbd"], xr, yr, BLUE, dash=DASH)
    line(RATIO_ONE_LK, RATIO_ONE_LR, xr, yr, BLUE, smooth=False)
    line(*P["rod"], xr, yr, ORANGE, dash=DASH)
    line(*P["ros"], xr, yr, ORANGE)
    if P["star"] is not None:
        s = P["star"]
        for xa_, ya_, val in ((xm, ym, STAR_MAIN_LP[s]), (xr, yr, STAR_RATIO_LR[s])):
            fig.add_trace(go.Scatter(x=[10 ** STAR_LK[s]], y=[10 ** val], xaxis=xa_, yaxis=ya_, mode="markers",
                                     marker=dict(symbol="star", size=15, color=ORANGE, line=dict(color="black", width=2)),
                                     showlegend=False, hoverinfo="skip"))
    # dummy trace so that the top (r) axis is drawn
    fig.add_trace(go.Scatter(x=[1.0], y=[1e-30], xaxis=xt, yaxis=ym, mode="markers",
                             marker=dict(opacity=0), showlegend=False, hoverinfo="skip"))

    common = dict(type="log", showgrid=False, zeroline=False, linecolor="black", linewidth=2,
                  showline=True, tickfont=TICKFONT, tickcolor="black", tickwidth=1.3)
    layout[ax(mn, "xaxis")] = dict(common, domain=xd, anchor=ym, range=K_RANGE, ticks="",
                                   showticklabels=False, mirror=True)
    layout[ax(mn, "yaxis")] = dict(common, domain=mdom, anchor=xm, range=[-8.3, 2.0], ticks="outside",
                                   ticklen=8, mirror="ticks", tickmode="array",
                                   tickvals=main_major, ticktext=main_major_text,
                                   showticklabels=(col == 0),
                                   minor=dict(tickmode="array", tickvals=main_even, ticks="outside",
                                              ticklen=8, tickwidth=1.3, tickcolor="black", showgrid=False))
    layout[ax(tn, "xaxis")] = dict(common, overlaying=xm, side="top", anchor=ym, range=K_RANGE,
                                   showline=False, ticks="outside", ticklen=8, tickmode="array",
                                   tickvals=top_major, ticktext=top_text, showticklabels=(row == 0),
                                   ticklabelstandoff=3,
                                   minor=dict(tickmode="array", tickvals=top_minor, ticks="outside",
                                              ticklen=4, tickwidth=1, tickcolor="black", showgrid=False))
    layout[ax(rn, "xaxis")] = dict(common, domain=xd, anchor=yr, range=K_RANGE, ticks="outside", ticklen=8,
                                   mirror=True, tickmode="array", tickvals=[1, 10, 100, 1000],
                                   ticktext=[sup(0), sup(1), sup(2), sup(3)], showticklabels=(row == 2),
                                   ticklabelstandoff=14,
                                   minor=dict(tickmode="array", tickvals=x_minor, ticks="outside",
                                              ticklen=4, tickwidth=1, tickcolor="black", showgrid=False))
    layout[ax(rn, "yaxis")] = dict(common, domain=rdom, anchor=xr, range=[-3.0, 0.56], ticks="outside",
                                   ticklen=8, mirror="ticks", tickmode="array",
                                   tickvals=[1e-3, 1e-2, 1e-1, 1.0],
                                   ticktext=[sup(-3), sup(-2), sup(-1), sup(0)], showticklabels=(col == 0),
                                   minor=dict(tickmode="array", tickvals=r_minor, ticks="outside",
                                              ticklen=4, tickwidth=1, tickcolor="black", showgrid=False))

    # redshift label box
    annotations.append(dict(xref="paper", yref="paper", x=px(COLS[col][0] + 7), y=py(MAIN_ROWS[row][1] - 8),
                            xanchor="left", yanchor="bottom", showarrow=False,
                            text="<i>z</i> = " + Z_LABELS[i], font=dict(family=FONT, size=21, color="black"),
                            bordercolor="black", borderwidth=2, borderpad=4, bgcolor="white"))

    if col == 0:
        cy = (MAIN_ROWS[row][0] + MAIN_ROWS[row][1]) / 2
        annotations.append(dict(xref="paper", yref="paper", x=px(30), y=py(cy), xanchor="center",
                                yanchor="middle", showarrow=False, textangle=-90,
                                text="<i>P</i>(<i>k</i>) / <i>h</i><sup>\u22123</sup> Mpc<sup>3</sup> (comoving)",
                                font=dict(family=FONT, size=18, color="black")))
        ry = (RATIO_ROWS[row][0] + RATIO_ROWS[row][1]) / 2
        annotations.append(dict(xref="paper", yref="paper", x=px(31), y=py(ry), xanchor="center",
                                yanchor="middle", showarrow=False, textangle=-90,
                                text="<b><i>P</i>(<i>k</i>)</b><br><b><i>P</i>(<i>k</i>)</b><sub>CDM</sub>",
                                font=dict(family=FONT, size=16, color="black")))
        shapes.append(dict(type="line", xref="paper", yref="paper", x0=px(31), x1=px(31),
                           y0=py(ry - 36), y1=py(ry + 36), line=dict(color="black", width=1)))

for col in range(2):
    cx = (COLS[col][0] + COLS[col][1]) / 2
    annotations.append(dict(xref="paper", yref="paper", x=px(cx), y=py(14), xanchor="center", yanchor="middle",
                            showarrow=False, text="<i>r</i> / <i>h</i><sup>\u22121</sup> Mpc (comoving)",
                            font=dict(family=FONT, size=18, color="black")))
    annotations.append(dict(xref="paper", yref="paper", x=px(cx), y=py(1637), xanchor="center", yanchor="middle",
                            showarrow=False, text="<i>k</i> / <i>h</i> Mpc<sup>\u22121</sup> (comoving)",
                            font=dict(family=FONT, size=18, color="black")))

# legend entries (dummy traces)
LEGEND_ITEMS = [
    ("linear theory", dict(mode="lines", line=dict(color=GRAY, width=2.5))),
    ("CDM simulation (2048<sup>3</sup>)", dict(mode="lines", line=dict(color=BLUE, width=2.5))),
    ("FDM simulation (8640<sup>3</sup>,<br> <i>mc</i><sup>2</sup> = 7 \u00d7 10<sup>\u221223</sup> eV)",
     dict(mode="lines", line=dict(color=ORANGE, width=2.5))),
    ("CDM ICs", dict(mode="lines", line=dict(color="black", width=2.5))),
    ("FDM ICs<br> (<i>mc</i><sup>2</sup> = 7 \u00d7 10<sup>\u221223</sup> eV)",
     dict(mode="lines", line=dict(color="black", width=2.5, dash="7px,4px"))),
    ("FDM Jeans length", dict(mode="markers", marker=dict(symbol="star", size=15, color="black"))),
    ("shot noise limit", dict(mode="lines", line=dict(color="#9a9a9a", width=1, dash="dot"))),
]
for lg, xa_, ya_ in (("legend", "x", "y"), ("legend2", "x3", "y3")):
    for name, style in LEGEND_ITEMS:
        fig.add_trace(go.Scatter(x=[None], y=[None], xaxis=xa_, yaxis=ya_, name=name, legend=lg,
                                 showlegend=True, hoverinfo="skip", **style))

legend_common = dict(xanchor="right", yanchor="top", bgcolor="white", bordercolor="#cccccc", borderwidth=1.5,
                     font=dict(family=FONT, size=12.5, color="black"), itemwidth=30, tracegroupgap=0,
                     traceorder="normal")
layout["legend"] = dict(legend_common, x=px(700), y=py(73))
layout["legend2"] = dict(legend_common, x=px(1339), y=py(73))

fig.update_layout(width=W, height=H, margin=dict(l=0, r=0, t=0, b=0, pad=0),
                  plot_bgcolor="white", paper_bgcolor="white", showlegend=True,
                  font=dict(family=FONT, size=16, color="black"),
                  annotations=annotations, shapes=shapes, **layout)

fig.write_html("out.html")
